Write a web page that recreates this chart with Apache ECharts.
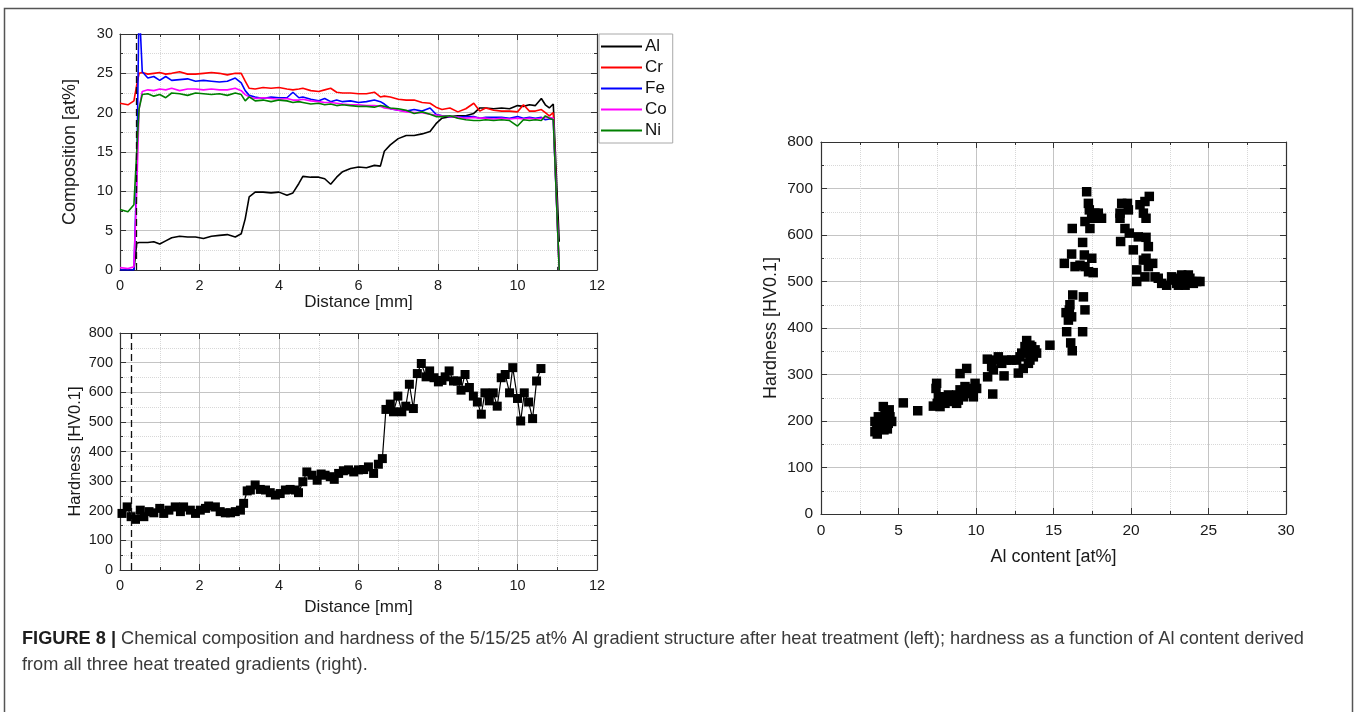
<!DOCTYPE html>
<html>
<head>
<meta charset="utf-8">
<script src="https://cdn.jsdelivr.net/npm/echarts@6/dist/echarts.min.js"></script>
<style>
html, body { margin: 0; padding: 0; background: #fff; }
#main { width: 1357px; height: 712px; }
</style>
</head>
<body>
<div id="main"></div>
<script>
// composition profile (top left)
var dist = [0, 0.2, 0.35, 0.42, 0.48, 0.56, 0.7, 0.85, 1.0, 1.15, 1.3, 1.5, 1.7, 1.9, 2.1, 2.3, 2.5, 2.7, 2.9, 3.05,
    3.15, 3.25, 3.4, 3.6, 3.8, 4.0, 4.2, 4.35, 4.5, 4.6, 4.8, 5.0, 5.15, 5.3, 5.45, 5.6, 5.8, 6.0, 6.2, 6.4,
    6.55, 6.65, 6.8, 7.0, 7.2, 7.4, 7.6, 7.8, 7.95, 8.1, 8.3, 8.5, 8.7, 8.9, 9.05, 9.2, 9.4, 9.6, 9.8, 10.0,
    10.15, 10.3, 10.45, 10.6, 10.7, 10.8, 10.9, 11.05]
var al = [0, 0, 0, 3.4, 3.5, 3.5, 3.5, 3.6, 3.3, 3.7, 4.1, 4.3, 4.2, 4.2, 4.0, 4.3, 4.4, 4.5, 4.2, 4.6,
    6.5, 9.3, 9.9, 9.9, 9.8, 9.9, 9.5, 9.8, 11.0, 11.9, 11.8, 11.8, 11.6, 10.9, 11.8, 12.5, 12.9, 13.1, 13.0, 13.3,
    13.2, 15.1, 15.9, 16.7, 17.1, 17.1, 17.3, 17.6, 18.6, 19.3, 19.5, 19.6, 19.6, 19.9, 20.6, 20.6, 20.5, 20.6, 20.5, 20.9,
    20.8, 21.0, 20.9, 21.8, 21.0, 20.6, 21.1, 3.6]
var cr = [21.2, 21.0, 21.5, 23.5, 25.0, 25.1, 24.9, 25.0, 25.1, 24.9, 25.0, 25.2, 24.9, 24.9, 25.0, 25.1, 25.0, 24.8, 25.0, 25.0,
    24.0, 23.1, 23.0, 23.2, 23.1, 23.2, 23.0, 22.9, 23.0, 23.1, 22.8, 22.7, 22.9, 23.1, 22.6, 22.5, 22.5, 22.4, 22.4, 22.6,
    22.0, 22.1, 22.0, 21.7, 21.6, 21.6, 21.3, 21.2, 20.7, 20.4, 20.6, 20.1, 20.5, 21.2, 20.2, 20.6, 20.3, 20.2, 20.2, 20.1,
    21.0, 20.2, 20.2, 20.4, 20.0, 19.6, 20.0, 0]
var fe = [0, 0, 0, 12, 34, 25.2, 24.4, 24.6, 24.1, 24.6, 24.1, 24.2, 24.3, 24.0, 24.1, 24.0, 23.9, 24.0, 24.4, 23.8,
    22.8, 22.2, 22.0, 21.8, 22.0, 21.9, 21.9, 22.6, 21.9, 22.0, 21.7, 21.5, 21.8, 21.4, 21.6, 21.4, 21.5, 21.3, 21.4, 21.6,
    21.4, 21.1, 20.5, 20.3, 20.2, 20.4, 20.2, 20.6, 19.8, 19.6, 19.5, 19.4, 19.5, 19.5, 19.3, 19.4, 19.4, 19.4, 19.3, 19.5,
    19.3, 19.4, 19.3, 19.4, 19.1, 19.2, 19.2, 0]
var co = [0.3, 0.2, 0.4, 10, 20.5, 22.7, 22.9, 22.8, 23.0, 22.9, 23.1, 22.8, 23.0, 23.0, 22.9, 23.0, 22.9, 22.9, 23.1, 22.8,
    22.3, 22.0, 21.8, 21.9, 21.8, 21.7, 21.8, 21.6, 21.6, 21.7, 21.5, 21.4, 21.3, 21.3, 21.2, 21.1, 21.0, 21.0, 20.9, 20.9,
    20.8, 20.6, 20.5, 20.3, 20.1, 20.0, 20.0, 19.8, 19.7, 19.6, 19.5, 19.4, 19.3, 19.4, 19.3, 19.3, 19.2, 19.3, 19.2, 19.3,
    19.2, 19.3, 19.2, 19.3, 19.4, 19.4, 19.3, 0]
var ni = [7.7, 7.4, 8.3, 15, 20.5, 22.3, 22.4, 22.1, 22.3, 21.9, 22.5, 22.4, 22.2, 22.5, 22.4, 22.3, 22.4, 22.2, 22.5, 22.3,
    21.5, 22.0, 21.5, 21.6, 21.4, 21.6, 21.5, 21.3, 21.4, 21.3, 21.1, 21.2, 21.0, 21.1, 20.9, 21.0, 20.9, 20.8, 20.8, 20.7,
    20.9, 20.8, 20.6, 20.5, 20.3, 19.9, 20.1, 19.8, 19.5, 19.5, 19.6, 19.3, 19.1, 19.0, 19.0, 19.1, 19.0, 19.1, 19.0, 18.3,
    19.1, 19.0, 19.1, 19.0, 19.6, 19.3, 19.1, 0]
var elements = ['Al', 'Cr', 'Fe', 'Co', 'Ni']
var elementColors = ['#000000', '#ff0000', '#0000ff', '#ff00ff', '#008000']

// hardness profile (bottom left)
var hvDist = [0.05, 0.18, 0.28, 0.39, 0.51, 0.6, 0.73, 0.85, 1.0, 1.1, 1.23, 1.39, 1.52, 1.6, 1.77, 1.9, 2.02, 2.15, 2.23, 2.4,
    2.52, 2.65, 2.78, 2.9, 3.03, 3.11, 3.2, 3.28, 3.4, 3.53, 3.66, 3.78, 3.91, 4.03, 4.16, 4.28, 4.41, 4.49, 4.6, 4.7,
    4.83, 4.96, 5.06, 5.16, 5.29, 5.39, 5.5, 5.62, 5.75, 5.88, 6.0, 6.13, 6.25, 6.38, 6.5, 6.6, 6.69, 6.8, 6.88, 6.99,
    7.09, 7.19, 7.28, 7.38, 7.48, 7.58, 7.7, 7.79, 7.9, 8.01, 8.1, 8.18, 8.28, 8.39, 8.49, 8.58, 8.68, 8.79, 8.89, 8.99,
    9.09, 9.18, 9.29, 9.39, 9.49, 9.59, 9.69, 9.8, 9.88, 10.0, 10.08, 10.17, 10.28, 10.38, 10.48, 10.59]
var hvValue = [191, 213, 180, 171, 202, 180, 197, 193, 208, 191, 202, 213, 197, 213, 202, 191, 202, 208, 216, 213,
    197, 193, 193, 197, 202, 225, 267, 270, 287, 272, 270, 261, 253, 258, 270, 272, 270, 261, 298, 331,
    320, 303, 324, 320, 315, 306, 326, 335, 338, 331, 338, 339, 348, 326, 357, 376, 542, 560, 534, 587,
    534, 553, 627, 545, 663, 697, 652, 672, 649, 635, 640, 652, 672, 638, 638, 607, 660, 616, 587, 567,
    526, 598, 571, 598, 553, 649, 660, 598, 683, 579, 503, 598, 567, 511, 638, 680]

// hardness vs Al content, all three gradients (right)
var alContent = [3.48, 3.63, 3.48, 3.7, 4.02, 4.24, 4.34, 4.28, 4.02, 4.45, 3.81, 4.13, 4.56, 3.9, 4.19, 3.6, 4.4, 4.06,
    5.31, 6.24,
    7.46, 7.42, 7.25, 7.5, 7.78, 8.1, 8.43, 8.75, 8.97, 9.29, 9.61, 9.94, 10.04, 9.4, 8.97, 7.68, 8.0, 8.32, 8.75, 9.18,
    9.5, 9.83, 8.54, 8.22, 9.4, 8.86, 7.89, 7.57,
    10.73, 10.75, 11.08, 11.01, 11.33, 11.44, 11.81, 11.66, 11.98, 12.3, 12.62, 12.73, 12.95, 13.05, 13.27, 13.27, 13.48,
    13.59, 13.81, 13.7, 13.38, 13.16, 12.84, 13.91, 13.48, 11.12,
    14.77,
    16.24, 16.93, 15.81, 16.02, 16.17, 15.96, 17.03, 15.85, 16.88, 16.11, 16.21, 16.06,
    16.21, 16.88, 16.17, 15.7, 16.39, 16.99, 17.47, 17.26, 17.03, 17.56, 16.71,
    17.14, 17.25, 17.31, 17.03, 17.46, 17.67, 18.1, 17.35, 17.57, 17.89,
    19.29, 19.4, 19.77, 19.83, 19.29, 19.61, 19.89, 19.33, 20.58, 20.8, 20.97, 21.18, 20.9, 20.47, 20.97, 20.15,
    21.12, 20.97, 20.8, 21.12, 21.4, 20.37, 20.37, 20.9, 21.55, 21.76, 21.98, 22.3, 22.73, 22.95, 23.16, 23.38, 23.59,
    23.8, 24.02, 24.24, 24.45, 23.06, 23.49, 23.27, 23.7, 22.62, 23.91, 23.59]
var alHardness = [177, 172, 199, 209, 231, 220, 195, 183, 202, 209, 195, 213, 199, 188, 202, 188, 224, 181,
    239, 222,
    281, 270, 232, 238, 245, 249, 252, 256, 267, 274, 270, 281, 270, 313, 302, 231, 238, 242, 238, 252,
    259, 252, 245, 256, 267, 245, 252, 252,
    333, 295, 258, 317, 331, 338, 297, 324, 331, 331, 331, 303, 346, 313, 373, 349, 331,
    360, 353, 338, 324, 360, 338, 346, 363, 310,
    363,
    471, 467, 433, 439, 424, 417, 439, 392, 392, 368, 351, 450,
    614, 584, 559, 539, 532, 557, 550, 521, 532, 519, 535,
    693, 668, 654, 629, 640, 647, 636, 614, 636, 647,
    647, 668, 668, 654, 636, 614, 604, 586, 665, 647, 636, 683, 672, 596, 595, 568,
    575, 550, 546, 532, 539, 525, 500, 510, 510, 507, 496, 492, 503, 496, 507, 500, 503,
    507, 496, 500, 500, 492, 492, 514, 514, 510, 500, 510]

var FONT = 'Liberation Sans'

function zip(xs, ys) {
    return xs.map(function (x, i) { return [x, ys[i]] })
}

// main axis with labels + grid lines, mirrored axis gives the closed box
function axes(kind, grid, min, max, interval, labelSize, margin, name, nameGap, nameSize) {
    var main = {
        type: 'value', gridIndex: grid, min: min, max: max, interval: interval,
        position: kind == 'x' ? 'bottom' : 'left',
        axisLine: { show: true, onZero: false, lineStyle: { color: '#333', width: 1.2 } },
        axisTick: { show: true, inside: true, length: 6, lineStyle: { color: '#333' } },
        minorTick: { show: true, splitNumber: 2, length: 3, lineStyle: { color: '#333' } },
        splitLine: { show: true, lineStyle: { color: '#c4c4c4', width: 1 } },
        minorSplitLine: { show: true, lineStyle: { color: '#d8d8d8', type: 'dotted' } },
        axisLabel: { fontFamily: FONT, fontSize: labelSize, color: '#1a1a1a', margin: margin },
        name: name, nameLocation: 'middle', nameGap: nameGap,
        nameTextStyle: { fontFamily: FONT, fontSize: nameSize, color: '#1a1a1a' }
    }
    var mirror = {
        type: 'value', gridIndex: grid, min: min, max: max, interval: interval,
        position: kind == 'x' ? 'top' : 'right',
        axisLine: { show: true, onZero: false, lineStyle: { color: '#333', width: 1.2 } },
        axisTick: { show: true, inside: true, length: 6, lineStyle: { color: '#333' } },
        minorTick: { show: true, splitNumber: 2, length: 3, lineStyle: { color: '#333' } },
        splitLine: { show: false },
        axisLabel: { show: false }
    }
    return [main, mirror]
}

var xAxes = [].concat(
    axes('x', 0, 0, 12, 2, 14.5, 8, 'Distance [mm]', 24, 17),
    axes('x', 1, 0, 12, 2, 14.5, 8, 'Distance [mm]', 29, 17),
    axes('x', 2, 0, 30, 5, 15.5, 9, 'Al content [at%]', 34, 18)
)
var yAxes = [].concat(
    axes('y', 0, 0, 30, 5, 14.5, 7, 'Composition [at%]', 41, 18),
    axes('y', 1, 0, 800, 100, 14.5, 7, 'Hardness [HV0.1]', 36, 16.5),
    axes('y', 2, 0, 800, 100, 15.5, 8, 'Hardness [HV0.1]', 41, 18)
)

var series = elements.map(function (el, k) {
    var vals = [al, cr, fe, co, ni][k]
    var s = {
        name: el, type: 'line', xAxisIndex: 0, yAxisIndex: 0,
        data: zip(dist, vals), symbol: 'none', clip: true,
        lineStyle: { color: elementColors[k], width: 1.6 },
        itemStyle: { color: elementColors[k] }
    }
    if (k == 0) {
        // interface marker
        s.markLine = {
            silent: true, symbol: 'none', label: { show: false },
            lineStyle: { color: '#111', type: [7, 4], width: 1.3 },
            data: [{ xAxis: 0.41 }]
        }
    }
    return s
})

series.push({
    name: 'HV', type: 'line', xAxisIndex: 2, yAxisIndex: 2,
    data: zip(hvDist, hvValue), symbol: 'rect', symbolSize: 9,
    lineStyle: { color: '#000', width: 1.2 }, itemStyle: { color: '#000', opacity: 1 },
    markLine: {
        silent: true, symbol: 'none', label: { show: false },
        lineStyle: { color: '#111', type: [7, 4], width: 1.3 },
        data: [{ xAxis: 0.28 }]
    }
})
series.push({
    name: 'HV vs Al', type: 'scatter', xAxisIndex: 4, yAxisIndex: 4,
    data: zip(alContent, alHardness), symbol: 'rect', symbolSize: 9.5,
    itemStyle: { color: '#000', opacity: 1 }
})

var option = {
    animation: false,
    backgroundColor: '#fff',
    grid: [
        { left: 120, top: 34, width: 477, height: 236 },
        { left: 120, top: 333, width: 477, height: 237 },
        { left: 821, top: 142, width: 465, height: 372 }
    ],
    xAxis: xAxes,
    yAxis: yAxes,
    legend: {
        data: elements, orient: 'vertical', left: 599, top: 34,
        icon: 'rect', itemWidth: 41, itemHeight: 2, itemGap: 4,
        padding: [4, 6, 4, 2],
        borderColor: '#a8a8a8', borderWidth: 1,
        textStyle: { fontFamily: FONT, fontSize: 17, color: '#111', padding: [0, 0, 0, -2] }
    },
    graphic: [
        {
            type: 'rect', silent: true,
            shape: { x: 4.5, y: 8.5, width: 1348, height: 720 },
            style: { fill: null, stroke: '#555', lineWidth: 1.5 }
        },
        {
            type: 'text', left: 22, top: 630,
            style: {
                text: '{b|FIGURE 8 |} Chemical composition and hardness of the 5/15/25 at% Al gradient structure after heat treatment (left); hardness as a function of Al content derived',
                font: '18.2px "Liberation Sans"', fill: '#3a3a3a',
                rich: { b: { fontWeight: 'bold', fontFamily: FONT, fontSize: 18.2, fill: '#1e1e1e' } }
            }
        },
        {
            type: 'text', left: 22, top: 656,
            style: {
                text: 'from all three heat treated gradients (right).',
                font: '18.2px "Liberation Sans"', fill: '#3a3a3a'
            }
        }
    ],
    series: series
}

var chart = echarts.init(document.getElementById('main'))
chart.setOption(option)
</script>
</body>
</html>
